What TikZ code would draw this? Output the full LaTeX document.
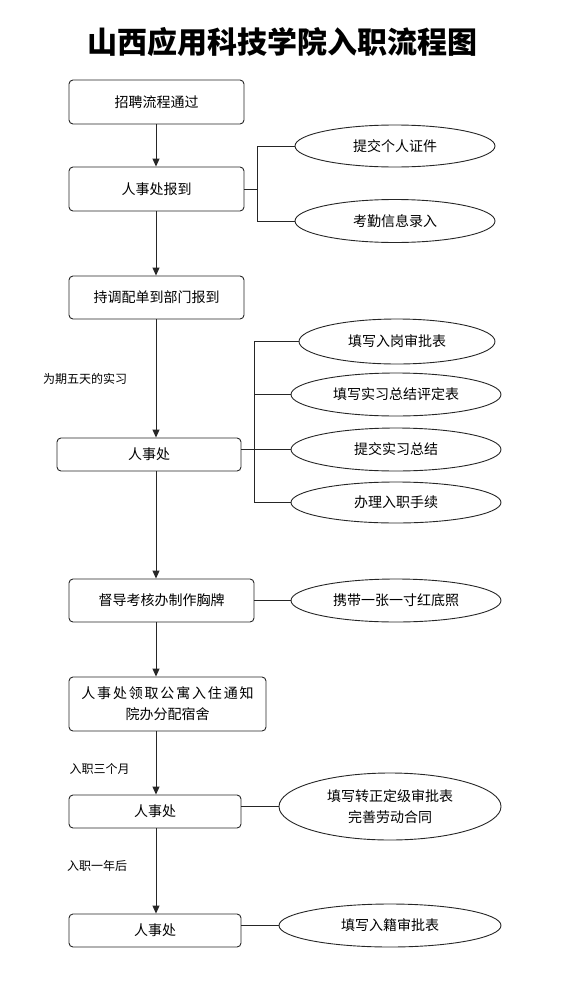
\documentclass[tikz,border=0pt]{standalone}
\usepackage{fontspec}
\setmainfont{Noto Sans CJK SC}
\newfontfamily\cjk{Noto Sans CJK SC}
\usetikzlibrary{shapes.geometric,arrows.meta}
\tikzset{
  ln/.style={draw=black!85, line width=0.9pt},
  arr/.style={ln, -{Triangle[length=8pt,width=7pt]}},
  box/.style={ln, rectangle, rounded corners=4pt, inner sep=0pt, align=center,
    font=\cjk\fontsize{14}{21}\selectfont},
  ell/.style={ln, ellipse, inner sep=0pt, align=center,
    font=\cjk\fontsize{14}{21}\selectfont},
  lbl/.style={font=\cjk\fontsize{12}{14}\selectfont, inner sep=0pt}
}
\begin{document}
\begin{tikzpicture}[x=1pt,y=-1pt]
\useasboundingbox (0,0) rectangle (563,1001);
\node[font=\cjk\bfseries\fontsize{30}{34}\selectfont] (title) at (282,42) {山西应用科技学院入职流程图};

\coordinate (ax) at (156,0);
\coordinate (k1) at (257,0);
\coordinate (k2) at (254,0);

\node[box, minimum width=175pt, minimum height=44pt] (b1) at (156.5,102) {招聘流程通过};
\node[box, minimum width=175pt, minimum height=44pt] (b2) at (156.5,189) {人事处报到};
\node[box, minimum width=175pt, minimum height=43pt] (b3) at (156.5,297.5) {持调配单到部门报到};
\node[box, minimum width=184pt, minimum height=33pt] (b4) at (149,454.5) {人事处};
\node[box, minimum width=185pt, minimum height=43pt] (b5) at (161.5,600.5) {督导考核办制作胸牌};
\node[box, minimum width=197pt, minimum height=54pt] (b6) at (167.5,704) {{\addfontfeature{LetterSpace=13}人事处领取公寓入住通知}\\院办分配宿舍};
\node[box, minimum width=172pt, minimum height=33pt] (b7) at (155,811.5) {人事处};
\node[box, minimum width=172pt, minimum height=33pt] (b8) at (155,930.5) {人事处};

\node[ell, minimum width=200pt, minimum height=42pt] (e1) at (395,146) {提交个人证件};
\node[ell, minimum width=200pt, minimum height=43pt] (e2) at (395,221) {考勤信息录入};
\node[ell, minimum width=196pt, minimum height=45pt] (e3) at (397,341.5) {填写入岗审批表};
\node[ell, minimum width=210pt, minimum height=43pt] (e4) at (396,394.5) {填写实习总结评定表};
\node[ell, minimum width=210pt, minimum height=43pt] (e5) at (396,449.5) {提交实习总结};
\node[ell, minimum width=210pt, minimum height=41pt] (e6) at (396,502.5) {办理入职手续};
\node[ell, minimum width=210pt, minimum height=43pt] (e7) at (396,600.5) {携带一张一寸红底照};
\node[ell, minimum width=222pt, minimum height=67pt] (e8) at (390,806.5) {填写转正定级审批表\\完善劳动合同};
\node[ell, minimum width=222pt, minimum height=43pt] (e9) at (390,925.5) {填写入籍审批表};

\node[lbl] (l1) at (85,379) {为期五天的实习};
\node[lbl] (l2) at (99.5,769) {入职三个月};
\node[lbl] (l3) at (97,866) {入职一年后};

\draw[arr] (b1.south -| ax) -- (b2.north -| ax);
\draw[arr] (b2.south -| ax) -- (b3.north -| ax);
\draw[arr] (b3.south -| ax) -- (b4.north -| ax);
\draw[arr] (b4.south -| ax) -- (b5.north -| ax);
\draw[arr] (b5.south -| ax) -- (b6.north -| ax);
\draw[arr] (b6.south -| ax) -- (b7.north -| ax);
\draw[arr] (b7.south -| ax) -- (b8.north -| ax);

\draw[ln] (e1.west) -| (k1 |- e2.west) -- (e2.west);
\draw[ln] (b2.east) -- (k1 |- b2.east);

\draw[ln] (e3.west) -| (k2 |- e6.west) -- (e6.west);
\draw[ln] (k2 |- e4.west) -- (e4.west);
\draw[ln] (b4.east |- e5.west) -- (e5.west);

\draw[ln] (b5.east |- e7.west) -- (e7.west);
\draw[ln] (b7.east |- e8.west) -- (e8.west);
\draw[ln] (b8.east |- e9.west) -- (e9.west);
\end{tikzpicture}
\end{document}
